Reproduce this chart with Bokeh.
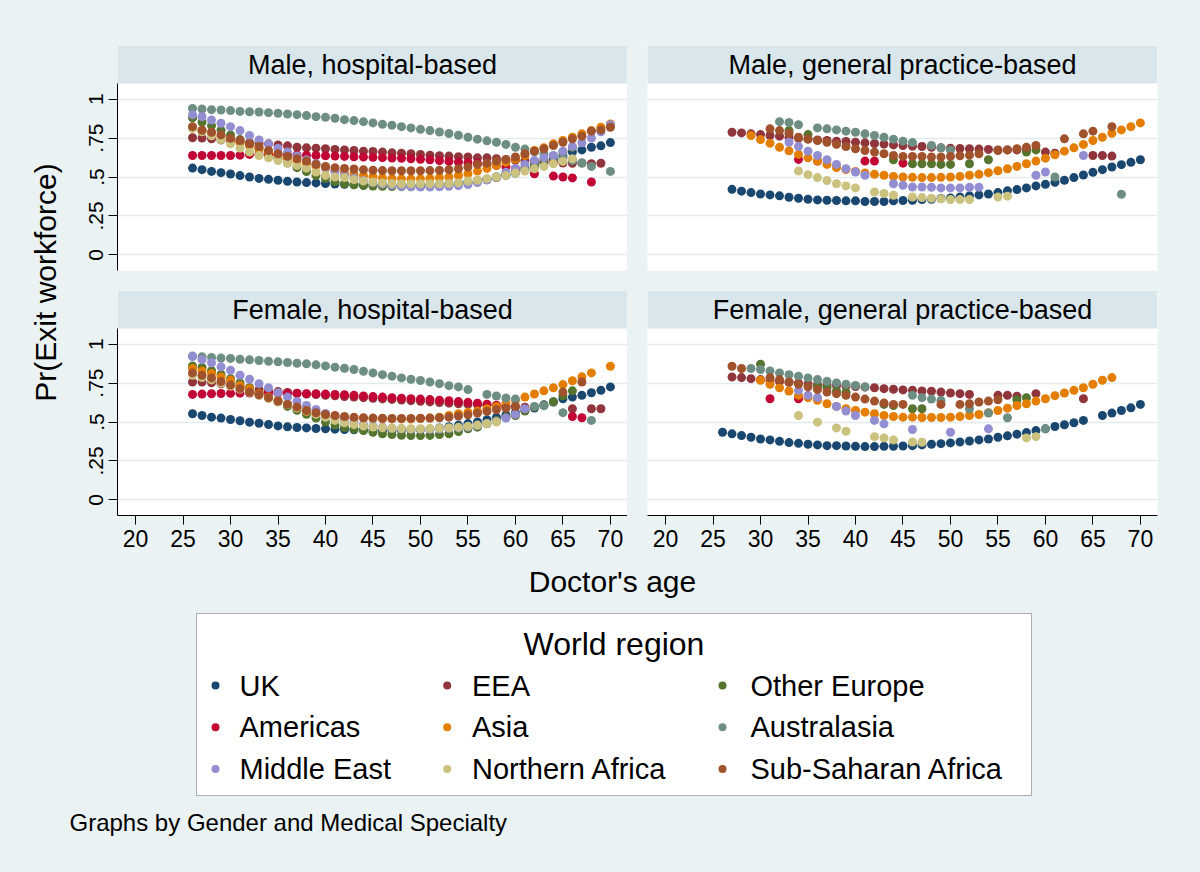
import math
from bokeh.plotting import figure
from bokeh.layouts import row, column
from bokeh.models import Range1d, BoxAnnotation, Label, FixedTicker, ColumnDataSource
from bokeh.embed import file_html
from bokeh.resources import INLINE
from bokeh.core.properties import value

_ = None

# ---------------- data ----------------
AGES = list(range(26, 71))
REGIONS = ["UK", "EEA", "Other Europe", "Americas", "Asia", "Australasia",
           "Middle East", "Northern Africa", "Sub-Saharan Africa"]
COLORS = ["#1A476F", "#90353B", "#55752F", "#C10534", "#E37E00", "#6E8E84",
          "#938DD2", "#CAC27E", "#A0522D"]
PANEL_TITLES = ["Male, hospital-based", "Male, general practice-based",
                "Female, hospital-based", "Female, general practice-based"]
X_TICKS = [20, 25, 30, 35, 40, 45, 50, 55, 60, 65, 70]
Y_TICKS = [0, 0.25, 0.5, 0.75, 1]
Y_TICK_LABELS = ["0", ".25", ".5", ".75", "1"]

# Male, hospital-based (ages 26..70)
MH_UK = [.557,.547,.536,.528,.519, .509,.500,.491,.485,.479, .472,.468,.464,.462,.458, .455,.453,.451,.449,.448, .447,.446,.446,.447,.448, .450,.453,.457,.462,.468, .476,.485,.497,.510,.525, .545,.565,.588,.610,.634, .660,.674,.691,.700,.721]
MH_EEA = [.752,.750,.745,.738,.732, .726,.721,.717,.713,.706, .700,.691,.687,.685,.681, .677,.674,.670,.666,.664, .660,.655,.653,.649,.645, .640,.636,.634,.630,.628, .623,.623,.617,.613,.608, .605,.600,.600,.595,.590, .588,.590,.585,.588,_]
MH_OE = [.880,.852,.830,.800,.770, .740,.710,.680,.650,.620, .590,.560,.535,.510,.490, .470,.457,.450,.445,.442, .440,.439,.438,.438,.439, .441,.444,.448,.454,.462, .472,.485,.500,.518,.538, .560,.585,.610,.635,.660, .690,_,_,_,_]
MH_AM = [.638,.638,.638,.638,.638, .640,.645,.645,.645,.645, .643,.641,.640,.638,.636, .634,.632,.630,.628,.626, .624,.622,.620,.617,.614, .610,.605,.600,.596,.592, .588,.583,.575,.565,.553, _,.521,_,.506,.500, .494,_,.468,_,_]
MH_AS = [.820,.800,.780,.760,.740, .720,.700,.680,.660,.640, .620,.600,.585,.570,.555, .540,.528,.517,.508,.500, .494,.490,.488,.487,.488, .491,.496,.500,.510,.521, .538,.555,.575,.595,.615, .638,.670,.687,.713,.734, .755,.777,.798,.819,.840]
MH_AU = [.940,.936,.932,.930,.926, .921,.919,.917,.913,.909, .904,.900,.894,.887,.883, .877,.868,.862,.855,.847, .838,.832,.823,.815,.806, .798,.789,.779,.768,.755, .743,.732,.723,.709,.691, .679,.662,.648,.635,.620, .605,.590,.568,_,.536]
MH_ME = [.900,.887,.866,.845,.823, .798,.766,.738,.710,.685, .660,.635,.610,.585,.560, .535,.512,.492,.477,.465, .455,.447,.441,.437,.436, .436,.437,.440,.445,.452, .465,.480,.500,.530,.555, .580,.606,.623,.638,.666, .696,.720,.750,.790,.835]
MH_NA = [.810,.790,.765,.740,.713, .685,.660,.638,.623,.606, .589,.574,.557,.532,.510, .500,.496,.483,.474,.468, .462,.458,.457,.457,.457, .457,.457,.458,.462,.474, .479,.489,.500,.510,.526, .538,.553,.568,.585,.600, .617,_,_,_,_]
MH_SS = [.823,.800,.787,.770,.749, .734,.713,.696,.670,.649, .632,.617,.602,.581,.568, .560,.555,.551,.547,.543, .541,.540,.540,.540,.540, .541,.543,.547,.553,.564, .581,.589,.602,.613,.628, .649,.666,.681,.702,.723, .745,.762,.794,.802,.819]

# Male, general practice-based
MG_UK = [_,.421,.409,.400,.391, .385,.379,.370,.364,.357, .353,.351,.349,.347,.347, .343,.343,.343,.347,.349, .351,.355,.357,.362,.366, .372,.379,.385,.391,.400, .411,.419,.430,.443,.453, .466,.479,.496,.513,.530, .547,.564,.579,.594,.611]
MG_EEA = [_,.787,.783,.777,.772, .766,.762,.755,.749,.743, .738,.734,.730,.728,.723, .719,.715,.711,.706,.702, .698,.696,.691,.687,.685, .683,.681,.679,.677,.674, .674,.674,.674,_,.660, .653,_,_,_,.638, .638,.634,_,_,_]
MG_OE = [_,_,_,_,_, _,_,.798,_,.772, _,_,_,_,_, _,_,_,.611,_, .585,.585,.585,.581,.581, _,.585,_,.611,_, _,_,.660,.674,_, _,_,_,_,_, _,_,_,_,_]
MG_AM = [_,_,_,_,_, _,_,_,.613,_, .602,_,_,_,_, .602,.602,_,_,.589, _,_,_,_,_, _,_,_,_,_, _,_,_,_,_, _,_,_,_,_, _,_,_,_,_]
MG_AS = [_,_,_,.766,.740, .717,.691,.668,.645,.623, .602,.581,.560,.547,.536, .526,.517,.511,.504,.500, .498,.496,.496,.498,.500, .504,.511,.517,.528,.540, .553,.568,.585,.602,.621, .643,.666,.687,.709,.734, .755,.781,.802,.823,.847]
MG_AU = [_,_,_,_,_, _,.855,.850,.835,_, .815,.809,.802,.794,.787, .777,.766,.755,.743,.730, .721,_,.702,.687,.674, _,_,_,_,_, _,_,_,_,_, .500,_,_,_,_, _,_,.389,_,_]
MG_ME = [_,_,_,_,_, _,_,.723,.696,.666, .638,.611,.581,.553,.532, .511,_,_,.457,.447, .436,.436,.434,.430,.430, .430,.434,.434,_,_, _,_,_,.511,.532, _,_,_,.638,_, _,_,_,_,_]
MG_NA = [_,_,_,_,_, _,_,_,.538,.515, .496,.477,.457,.443,.430, _,.404,.394,.383,_, .372,.368,.364,.360,.355, .355,.355,_,_,.372, .377,_,_,_,_, _,_,_,_,_, _,_,_,_,_]
MG_SS = [_,_,_,_,_, .809,.798,.780,.755,.745, .734,.723,.709,.696,.681, .670,.660,.649,.638,.632, .632,.632,.628,.628,.632, .636,.640,.649,_,.670, .674,.681,.691,.702,_, _,.745,_,.777,.794, _,.823,_,_,_]

# Female, hospital-based
FH_UK = [.553,.542,.531,.525,.516, .508,.499,.492,.484,.475, .469,.465,.462,.458,.456, .454,.452,.450,.449,.448, .447,.447,.447,.448,.450, .455,.462,.470,.480,.490, .500,.515,.530,.545,.560, .575,.590,.610,.628,.649, .660,.671,.688,.703,.725]
FH_EEA = [.757,.757,.752,.745,.737, .728,.718,.708,.700,.695, .690,.685,.680,.676,.672, .668,.664,.660,.656,.652, .648,.645,.641,.637,.633, .629,.625,.621,.617,.613, .610,.607,.604,.600,.598, .595,_,_,_,_, .585,_,.585,.585,_]
FH_OE = [.860,.850,.830,.806,.778, .750,.720,.690,.660,.630, .600,.575,.550,.525,.500, .480,.465,.455,.445,.434, .424,.419,.415,.413,.413, .414,.419,.424,.439,.456, .467,.488,.510,.531,.542, .570,.596,.606,.630,.668, .700,_,_,_,_]
FH_AM = [.677,.679,.681,.683,.684, .685,.686,.686,.686,.685, .684,.683,.682,.681,.679, .677,.675,.671,.667,.663, .660,.656,.653,.650,.647, .644,.640,.636,.631,.626, .620,.614,.607,.600,_, _,_,_,_,_, .535,.527,_,_,_]
FH_AS = [.843,.828,.811,.789,.768, .735,.714,.682,.660,.639, .613,.591,.568,.553,.542, .531,.527,.525,.523,.522, .520,.520,.520,.520,.522, .525,.531,.542,.553,.563, .570,.585,.600,.620,.640, .660,.680,.700,.720,.740, .765,.790,.815,_,.858]
FH_AU = [.923,.918,.914,.910,.908, .903,.899,.895,.890,.886, .882,.877,.873,.867,.860, .852,.845,.837,.826,.815, .804,.794,.783,.774,.766, .757,.746,.733,.725,.708, _,.677,.667,.654,.647, _,.600,.605,_,.560, _,_,.510,_,_]
FH_ME = [.920,.900,.880,.854,.832, .800,.774,.746,.720,.688, .660,.632,.606,.580,.555, .530,.510,.495,.483,.473, .466,.460,.456,.454,.453, .453,.455,.458,.462,.468, .477,.490,.505,.525,.550, .585,_,_,_,_, _,_,_,_,_]
FH_NA = [.800,.785,.770,.750,.730, .710,.690,.670,.650,.630, .610,.590,.570,.550,.530, .510,.495,.483,.474,.468, .463,.460,.458,.457,.457, .458,.460,.463,.467,.473, .480,.490,.500,_,_, _,_,_,_,_, _,_,_,_,_]
FH_SS = [.815,.800,.783,.760,.737, .714,.692,.675,.656,.634, .613,.596,.574,.559,.548, .542,.535,.531,.527,.525, .524,.523,.523,.523,.524, .525,.527,.531,.538,.546, .557,.568,.578,.589,.600, _,_,_,_,.692, _,.757,_,_,_]

# Female, general practice-based
FG_UK = [.434,.424,.413,.402,.391, .385,.376,.368,.363,.357, .353,.348,.348,.346,.344, .342,.342,.344,.344,.346, .348,.353,.357,.361,.366, .372,.378,.385,.391,.402, .411,.422,.432,.445,.456, .471,.482,.495,.510,_, .542,.557,.574,.591,.613]
FG_EEA = [_,.789,.785,.778,.772, .766,.760,.755,.750,.745, .740,.736,.733,.730,.728, .724,.720,.714,.710,.706, .703,.699,.697,.692,.686, .682,.677,_,_,.671, .671,.666,_,.682,_, _,_,_,.649,_, _,_,_,_,_]
FG_OE = [_,_,_,_,.871, _,_,_,_,_, .729,.720,.700,.690,_, _,_,.613,.606,_, .585,.585,_,_,_, _,_,_,_,_, _,.643,.656,_,_, _,_,_,_,_, _,_,_,_,_]
FG_AM = [_,_,_,_,_, .649,_,_,.649,_, _,_,_,_,_, _,_,_,_,_, _,_,_,_,_, _,_,_,_,_, _,_,_,_,_, _,_,_,_,_, _,_,_,_,_]
FG_AS = [_,_,_,_,.768, .742,.720,.699,.671,.656, .639,.617,.600,.585,.574, .563,.553,.542,.535,.531, .531,.529,.529,.529,.531, .535,.542,.548,.559,.574, .589,.606,.617,.634,.649, .669,.686,.703,.720,.742, .768,.785,_,_,_]
FG_AU = [_,_,_,.843,.837, .828,.815,.804,.794,.783, .772,.761,.751,.742,.735, .725,_,_,_,_, .671,.656,.647,.639,_, _,.585,_,.557,_, .527,_,_,_,.456, _,_,_,_,_, _,_,_,_,_]
FG_ME = [_,_,_,_,_, _,_,_,.703,.671, .656,_,.600,.570,.542, _,.510,.488,_,_, .452,_,_,_,.434, _,_,_,.456,_, _,_,_,_,_, _,_,_,_,_, _,_,_,_,_]
FG_NA = [_,_,_,_,_, _,_,_,.542,_, .499,_,.462,.441,_, _,.406,.398,.385,_, .372,.370,_,_,_, _,_,_,_,_, _,_,.398,.406,_, _,_,_,_,_, _,_,_,_,_]
FG_SS = [_,.858,.843,_,_, .785,.772,.757,.742,.725, .708,.692,.682,.671,.660, .647,.634,.622,.613,.613, _,_,_,.613,_, .613,.617,.628,.634,.643, _,_,_,_,_, _,_,_,_,_, _,_,_,_,_]

PANEL_SERIES = [
    [MH_UK, MH_EEA, MH_OE, MH_AM, MH_AS, MH_AU, MH_ME, MH_NA, MH_SS],
    [MG_UK, MG_EEA, MG_OE, MG_AM, MG_AS, MG_AU, MG_ME, MG_NA, MG_SS],
    [FH_UK, FH_EEA, FH_OE, FH_AM, FH_AS, FH_AU, FH_ME, FH_NA, FH_SS],
    [FG_UK, FG_EEA, FG_OE, FG_AM, FG_AS, FG_AU, FG_ME, FG_NA, FG_SS],
]

# ---------------- style / layout ----------------
FONT = "Liberation Sans"
BG = "#EAF2F3"
HEADER_BG = "#D9E6EB"
GRID_COLOR = "#E2EBEE"

X_MIN, X_MAX = 18.1, 71.8
Y_MIN, Y_PLOT_MAX = -0.1, 1.1
FRAME_W = 510
HEADER_H = 38
PLOT_H = 187
Y_MAX = Y_PLOT_MAX + (Y_PLOT_MAX - Y_MIN) * HEADER_H / PLOT_H


def make_panel(idx, left_axis, bottom_axis):
    p = figure(
        frame_width=FRAME_W, frame_height=HEADER_H + PLOT_H,
        x_range=Range1d(X_MIN, X_MAX), y_range=Range1d(Y_MIN, Y_MAX),
        x_axis_location="below" if bottom_axis else None,
        y_axis_location="left" if left_axis else None,
        toolbar_location=None, output_backend="svg",
        min_border_left=47 if left_axis else 20,
        min_border_right=0 if left_axis else 43,
        min_border_top=45 if not bottom_axis else 10,
        min_border_bottom=45 if bottom_axis else 10,
        background_fill_color="white", border_fill_color=BG,
        outline_line_color=None,
    )
    p.xgrid.visible = False
    p.ygrid.ticker = FixedTicker(ticks=Y_TICKS)
    p.ygrid.grid_line_color = GRID_COLOR
    p.ygrid.grid_line_width = 1.5

    p.add_layout(BoxAnnotation(left=X_MIN, right=X_MAX, bottom=Y_PLOT_MAX, top=Y_MAX,
                               fill_color=HEADER_BG, fill_alpha=1.0, line_color=None,
                               level="underlay"))
    p.add_layout(Label(x=(X_MIN + X_MAX) / 2, y=(Y_PLOT_MAX + Y_MAX) / 2,
                       text=PANEL_TITLES[idx], text_align="center", text_baseline="middle",
                       text_font=FONT, text_font_size="27px", text_color="black"))

    if left_axis:
        ax = p.yaxis[0]
        ax.ticker = FixedTicker(ticks=Y_TICKS)
        ax.major_label_overrides = {t: l for t, l in zip(Y_TICKS, Y_TICK_LABELS)}
        ax.bounds = (Y_MIN, Y_PLOT_MAX)
        ax.major_label_orientation = "parallel"
        ax.major_label_text_font_size = "21px"
    if bottom_axis:
        ax = p.xaxis[0]
        ax.ticker = FixedTicker(ticks=X_TICKS)
        ax.major_label_text_font_size = "23px"
    for ax in p.axis:
        ax.axis_line_color = "black"
        ax.axis_line_width = 1
        ax.major_tick_line_color = "black"
        ax.major_tick_out = 9
        ax.major_tick_in = 0
        ax.minor_tick_line_color = None
        ax.major_label_text_font = FONT
        ax.major_label_text_color = "black"
        ax.major_label_standoff = 5

    for name, color, vals in zip(REGIONS, COLORS, PANEL_SERIES[idx]):
        xs = [a for a, v in zip(AGES, vals) if v is not None]
        ys = [v for v in vals if v is not None]
        src = ColumnDataSource(dict(age=xs, pr=ys))
        p.scatter("age", "pr", source=src, size=9, fill_color=color,
                  line_color=None, name=name)
    return p


tl = make_panel(0, True, False)
tr = make_panel(1, False, False)
bl = make_panel(2, True, True)
br = make_panel(3, False, True)

# y-axis title strip
YL_W, YL_H = 70, 560
ylab = figure(width=YL_W, height=YL_H, x_range=Range1d(0, YL_W), y_range=Range1d(0, YL_H),
              x_axis_location=None, y_axis_location=None, toolbar_location=None,
              output_backend="svg", min_border=0, background_fill_color=BG,
              border_fill_color=BG, outline_line_color=None)
ylab.grid.visible = False
ylab.text(x=[45], y=[YL_H - 282], text=["Pr(Exit workforce)"], angle=math.pi / 2,
          text_align="center", text_baseline="middle", text_font=value(FONT),
          text_font_size=value("30px"), text_color="black")

# footer: x title, legend, note
FW, FH = 1200, 312
foot = figure(width=FW, height=FH, x_range=Range1d(0, FW), y_range=Range1d(0, FH),
              x_axis_location=None, y_axis_location=None, toolbar_location=None,
              output_backend="svg", min_border=0, background_fill_color=BG,
              border_fill_color=BG, outline_line_color=None)
foot.grid.visible = False

foot.text(x=[612], y=[FH - 21], text=["Doctor's age"], text_align="center",
          text_baseline="middle", text_font=value(FONT), text_font_size=value("30px"),
          text_color="black")

LEG_L, LEG_R, LEG_T, LEG_B = 196, 1031, FH - 53, FH - 235
foot.add_layout(BoxAnnotation(left=LEG_L, right=LEG_R, top=LEG_T, bottom=LEG_B,
                              fill_color="white", fill_alpha=1.0, line_color="black",
                              line_width=1, level="underlay"))
foot.text(x=[(LEG_L + LEG_R) / 2], y=[FH - 83], text=["World region"], text_align="center",
          text_baseline="middle", text_font=value(FONT), text_font_size=value("32px"),
          text_color="black")

COL_MARK_X = [215, 446.7, 722]
COL_TEXT_X = [239, 471.5, 750]
ROW_Y = [FH - 125, FH - 166.7, FH - 208.5]
leg_mx = [COL_MARK_X[i % 3] for i in range(len(REGIONS))]
leg_tx = [COL_TEXT_X[i % 3] for i in range(len(REGIONS))]
leg_y = [ROW_Y[i // 3] for i in range(len(REGIONS))]
foot.scatter(x=leg_mx, y=leg_y, size=8, fill_color=COLORS, line_color=None)
foot.text(x=leg_tx, y=leg_y, text=REGIONS, text_align="left", text_baseline="middle",
          text_font=value(FONT), text_font_size=value("29px"), text_color="black")

foot.text(x=[69], y=[FH - 262], text=["Graphs by Gender and Medical Specialty"],
          text_align="left", text_baseline="middle", text_font=value(FONT),
          text_font_size=value("24px"), text_color="black")

panels = column(row(tl, tr, styles={"background-color": BG}),
                row(bl, br, styles={"background-color": BG}),
                styles={"background-color": BG})
page = column(row(ylab, panels, styles={"background-color": BG}), foot,
              styles={"background-color": BG})

with open("out.html", "w") as f:
    f.write(file_html(page, INLINE))
